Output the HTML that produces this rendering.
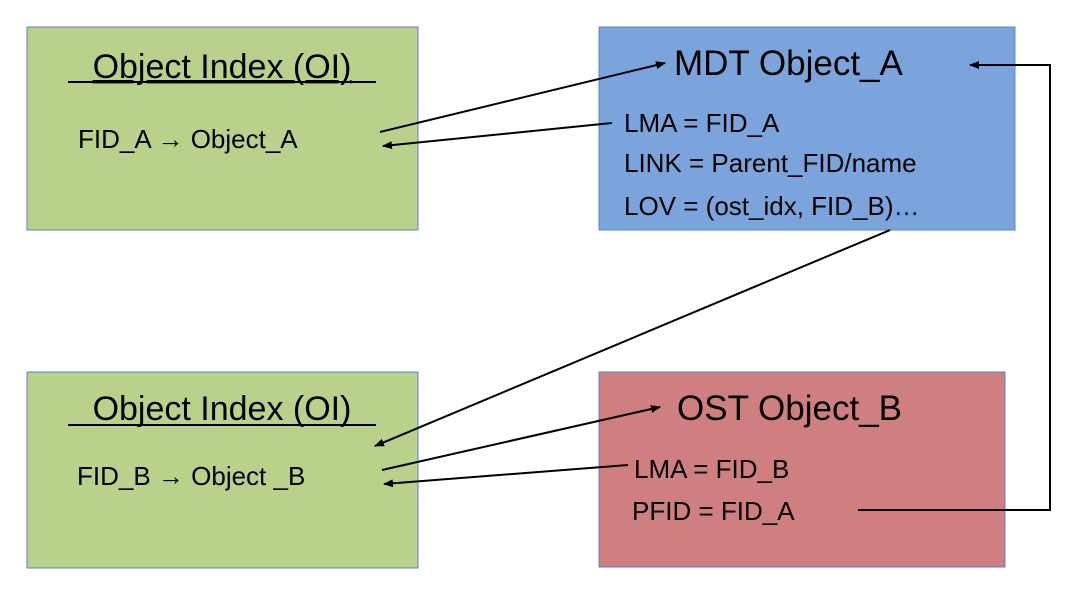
<!DOCTYPE html>
<html><head><meta charset="utf-8"><style>
body{margin:0;background:#fff}
svg text{font-family:"Liberation Sans",sans-serif;fill:#000}
</style></head><body>
<svg width="1080" height="610" viewBox="0 0 1080 610" xmlns="http://www.w3.org/2000/svg">
<defs><marker id="a" markerWidth="10" markerHeight="8" refX="9" refY="4" orient="auto" markerUnits="userSpaceOnUse"><path d="M0,0 L10,4 L0,8 z" fill="#000"/></marker></defs>
<rect x="27" y="27" width="391" height="203" fill="#b9d18b" stroke="#5b84c4" stroke-width="1"/>
<rect x="599" y="27" width="416" height="203" fill="#7ba4dc" stroke="#5b84c4" stroke-width="1"/>
<rect x="27" y="372" width="391" height="196" fill="#b9d18b" stroke="#5b84c4" stroke-width="1"/>
<rect x="599" y="372" width="406" height="195" fill="#cf7f7f" stroke="#5b84c4" stroke-width="1"/>
<text x="222" y="78" font-size="34" text-anchor="middle" text-decoration="underline">Object Index (OI)</text>
<line x1="68" y1="82" x2="376" y2="82" stroke="#000" stroke-width="2"/>
<text x="78" y="148" font-size="26">FID_A → Object_A</text>
<text x="674" y="75" font-size="35">MDT Object_A</text>
<text x="624" y="132" font-size="26">LMA = FID_A</text>
<text x="624" y="172" font-size="26">LINK = Parent_FID/name</text>
<text x="624" y="215" font-size="26">LOV = (ost_idx, FID_B)…</text>
<text x="222" y="420" font-size="34" text-anchor="middle">Object Index (OI)</text>
<line x1="68" y1="425" x2="376" y2="425" stroke="#000" stroke-width="2"/>
<text x="77" y="485" font-size="26">FID_B → Object _B</text>
<text x="677" y="420" font-size="35">OST Object_B</text>
<text x="634" y="478" font-size="26">LMA = FID_B</text>
<text x="632" y="520" font-size="26">PFID = FID_A</text>
<g stroke="#000" stroke-width="2" fill="none">
<line x1="380" y1="132" x2="665" y2="63" marker-end="url(#a)"/>
<line x1="612" y1="123" x2="383" y2="146" marker-end="url(#a)"/>
<line x1="890" y1="230" x2="375" y2="446" marker-end="url(#a)"/>
<line x1="382" y1="470" x2="660" y2="407" marker-end="url(#a)"/>
<line x1="628" y1="465" x2="384" y2="484" marker-end="url(#a)"/>
<polyline points="858,510 1050,510 1050,65 970,65" marker-end="url(#a)"/>
</g>
</svg>
</body></html>
